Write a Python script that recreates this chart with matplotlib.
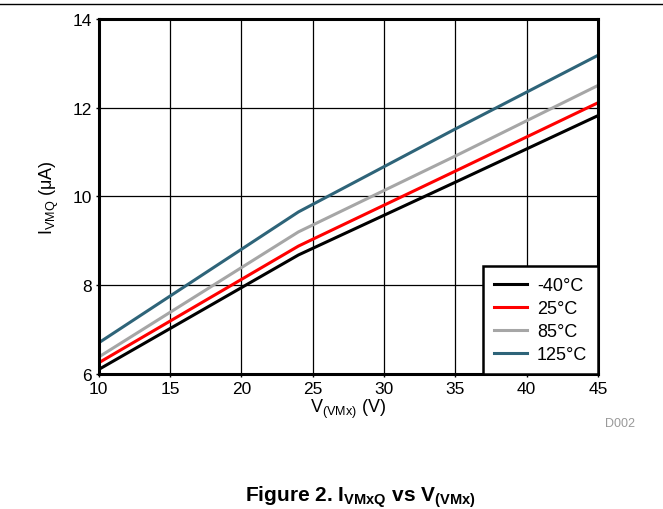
""" IVMQ vs VVMx plot with Matplotlib """

import matplotlib
matplotlib.use("Agg")
import matplotlib.pyplot as plt

plt.rcParams["font.family"] = ["Liberation Sans", "DejaVu Sans"]
plt.rcParams["mathtext.fontset"] = "custom"
plt.rcParams["mathtext.rm"] = "Liberation Sans"
plt.rcParams["mathtext.it"] = "Liberation Sans:italic"
plt.rcParams["mathtext.bf"] = "Liberation Sans:bold"

# Data
voltage = [10, 24, 35, 45]
i_m40 = [6.10, 8.68, 10.32, 11.82]
i_25 = [6.25, 8.88, 10.57, 12.11]
i_85 = [6.38, 9.20, 10.91, 12.50]
i_125 = [6.70, 9.65, 11.52, 13.18]
labels = ["-40°C", "25°C", "85°C", "125°C"]
colors = ["#000000", "#FF0000", "#A6A6A6", "#2E6479"]

fig = plt.figure(figsize=(6.63, 5.1), dpi=100)
ax = fig.add_axes([0.149, 0.265, 0.753, 0.696])

for series, label, color in zip([i_m40, i_25, i_85, i_125], labels, colors):
    ax.plot(voltage, series, color=color, linewidth=2.2, label=label)

ax.set_xlim(10, 45)
ax.set_ylim(6, 14)
ax.set_xticks(range(10, 46, 5))
ax.set_yticks(range(6, 15, 2))
ax.tick_params(labelsize=12.5, length=2, width=1, pad=3)
ax.grid(True, color="black", linewidth=0.9)
for spine in ax.spines.values():
    spine.set_linewidth(2.2)

ax.set_xlabel(r"V$_{\mathrm{(VMx)}}$ (V)", fontsize=13, labelpad=1)
ax.set_ylabel(r"I$_{\mathrm{VMQ}}$ ($\mathrm{\mu}$A)", fontsize=13, labelpad=8)

leg = ax.legend(loc="lower right", fontsize=13, frameon=True, fancybox=False,
                edgecolor="black", framealpha=1, borderaxespad=0.0,
                handlelength=1.85, labelspacing=0.33, borderpad=0.6,
                handletextpad=0.55)
leg.get_frame().set_linewidth(1.8)

fig.text(0.935, 0.162, "D002", fontsize=9, color="#999999", ha="center")
fig.text(0.543, 0.016, r"Figure 2. I$_{\mathbf{VMxQ}}$ vs V$_{\mathbf{(VMx)}}$",
         fontsize=15, fontweight="bold", ha="center")
fig.add_artist(plt.Line2D([0, 1], [0.99, 0.99], color="black", linewidth=1,
                          transform=fig.transFigure))

plt.savefig("out.png", dpi=100)
